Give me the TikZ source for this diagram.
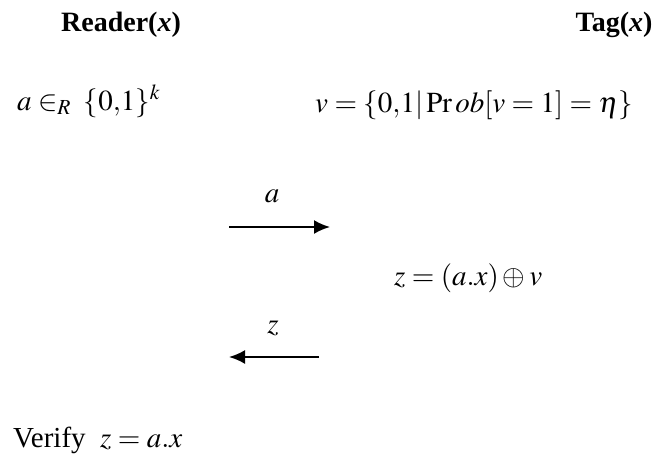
\documentclass[tikz,border=0pt]{standalone}
\usepackage{mathptmx}
\usepackage[no-math]{fontspec}
\setmainfont{Liberation Serif}
\usetikzlibrary{positioning, arrows.meta}

\begin{document}
\begin{tikzpicture}[
  x=1pt, y=-1pt,
  headnode/.style={inner sep=0pt, anchor=base, font=\fontsize{28}{32}\selectfont\bfseries},
  txtnode/.style={inner sep=0pt, anchor=base west, font=\fontsize{29}{34}\selectfont},
  msgnode/.style={inner sep=0pt, anchor=base, font=\fontsize{29}{34}\selectfont},
  msgarrow/.style={-{Latex[length=16pt,width=14pt]}, line width=2pt}
]
  \useasboundingbox (0,0) rectangle (654,456);

  % parties
  \node[headnode] (reader) at (121,31) {Reader(\textit{x})};
  \node[headnode] (tag) at (614,31) {Tag(\textit{x})};

  % setup
  \node[txtnode] (choose) at (17,110) {$a \in_{R}\; \{0{,}1\}^{k}$};
  \node[txtnode] (noise) at (315,112) {$v = \{0{,}1 | \Pr ob[v = 1] = \eta\}$};

  % first message
  \node[msgnode] (msga) at (272,202) {$a$};
  \coordinate (astart) at (229,227);
  \coordinate (aend) at (330,227);
  \draw[msgarrow] (astart) -- (aend);

  \node[txtnode] (answer) at (394,285) {$z = (a.x) \oplus v$};

  % reply
  \node[msgnode] (msgz) at (273,333) {$z$};
  \coordinate (zstart) at (319,357);
  \coordinate (zend) at (229,357);
  \draw[msgarrow] (zstart) -- (zend);

  \node[txtnode] (verify) at (13,447) {Verify\ \ $z = a.x$};
\end{tikzpicture}
\end{document}
